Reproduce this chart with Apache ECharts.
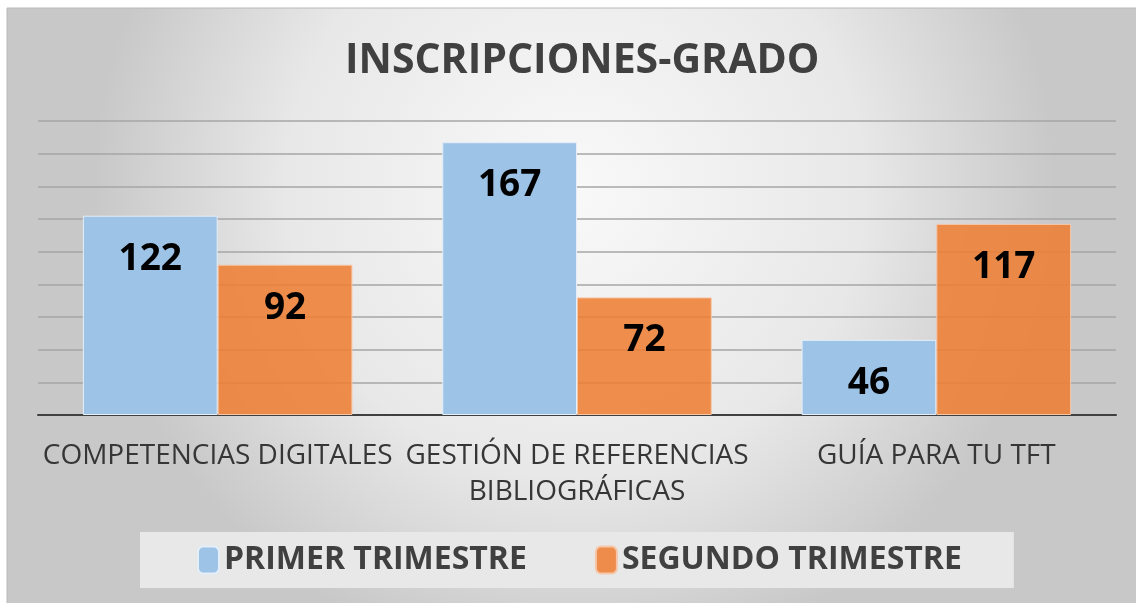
<!DOCTYPE html>
<html>
<head>
<meta charset="utf-8">
<script src="https://cdn.jsdelivr.net/npm/echarts@6/dist/echarts.min.js"></script>
<style>
  html, body { margin: 0; padding: 0; background: #fff; }
  #chart { width: 1136px; height: 603px; }
</style>
</head>
<body>
<div id="chart"></div>
<script>
const categories = [
  'COMPETENCIAS DIGITALES',
  'GESTIÓN DE REFERENCIAS\nBIBLIOGRÁFICAS',
  'GUÍA PARA TU TFT',
]
const primerTrimestre = [122, 167, 46]
const segundoTrimestre = [92, 72, 117]
const seriesNames = ['PRIMER TRIMESTRE', 'SEGUNDO TRIMESTRE']

const font = '"Open Sans", sans-serif'

const chart = echarts.init(document.getElementById('chart'))

const labelStyle = {
  show: true,
  position: 'insideTop',
  distance: 25,
  color: '#000',
  fontFamily: font,
  fontWeight: 'bold',
  fontSize: 37,
}

chart.setOption({
  backgroundColor: '#fff',
  animation: false,
  graphic: [
    {
      type: 'rect',
      z: -10,
      shape: { x: 7, y: 8, width: 1135, height: 600 },
      style: {
        fill: {
          type: 'radial',
          x: 0.5,
          y: 0.3,
          r: 0.8,
          colorStops: [
            { offset: 0, color: '#f9f9f9' },
            { offset: 0.6, color: '#e8e8e8' },
            { offset: 1, color: '#c8c8c8' },
          ],
        },
        stroke: '#b8b8b8',
        lineWidth: 1,
      },
    },
  ],
  title: {
    text: 'INSCRIPCIONES-GRADO',
    left: 340,
    top: 36,
    textStyle: {
      fontFamily: font,
      fontWeight: 'bold',
      fontSize: 41,
      color: '#404040',
    },
  },
  legend: {
    data: seriesNames,
    left: 140,
    top: 532,
    padding: [12, 52, 12, 57],
    itemGap: 68,
    itemWidth: 21,
    itemHeight: 27,
    backgroundColor: '#e8e8e8',
    textStyle: {
      fontFamily: font,
      fontWeight: 'bold',
      fontSize: 32,
      color: '#404040',
    },
  },
  grid: {
    left: 38,
    right: 20,
    top: 121,
    bottom: 188,
  },
  xAxis: {
    type: 'category',
    data: categories,
    axisLine: { lineStyle: { color: '#404040', width: 2 } },
    axisTick: { show: false },
    axisLabel: {
      interval: 0,
      margin: 23,
      fontFamily: font,
      fontSize: 28,
      lineHeight: 36,
      color: '#363636',
    },
  },
  yAxis: {
    type: 'value',
    min: 0,
    max: 180,
    interval: 20,
    axisLabel: { show: false },
    axisLine: { show: false },
    axisTick: { show: false },
    splitLine: { lineStyle: { color: '#a6a6a6', width: 1.5 } },
  },
  series: [
    {
      name: seriesNames[0],
      type: 'bar',
      data: primerTrimestre,
      barGap: '0%',
      barCategoryGap: '25%',
      itemStyle: { color: '#9dc3e6', borderColor: '#e4eef8', borderWidth: 1 },
      label: labelStyle,
    },
    {
      name: seriesNames[1],
      type: 'bar',
      data: segundoTrimestre,
      itemStyle: { color: 'rgba(237, 125, 49, 0.86)', borderColor: '#f5c7a8', borderWidth: 1 },
      label: labelStyle,
    },
  ],
})
</script>
</body>
</html>
